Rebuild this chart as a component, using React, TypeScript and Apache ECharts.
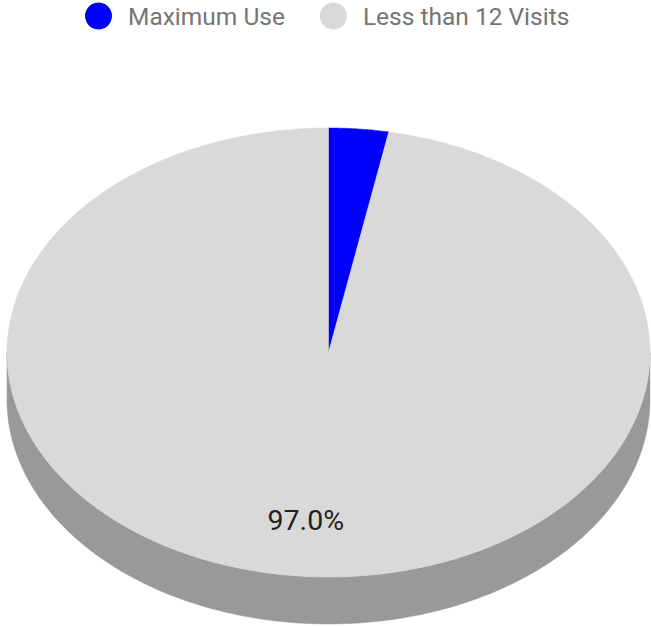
import React, { useEffect, useRef } from "react";
import * as echarts from "echarts";

const categories = ["Maximum Use", "Less than 12 Visits"];
const values = [3.0, 97.0];
const topColors = ["#0000ff", "#d9d9d9"];
const sideColors = ["#00009a", "#999999"];

const CX = 328.5;
const CY = 352.5;
const RX = 321.5;
const RY = 224.5;
const DEPTH = 47;
const LABEL_R = 0.75;

function pt(deg: number, dy = 0): number[] {
  const r = (deg * Math.PI) / 180;
  return [CX + RX * Math.sin(r), CY - RY * Math.cos(r) + dy];
}

function arcPoints(a: number, b: number, dy = 0): number[][] {
  const pts: number[][] = [];
  const n = Math.max(2, Math.ceil((b - a) / 0.5));
  for (let k = 0; k <= n; k++) pts.push(pt(a + ((b - a) * k) / n, dy));
  return pts;
}

export default function App() {
  const ref = useRef<HTMLDivElement>(null);
  useEffect(() => {
    if (!ref.current) return;
    const chart = echarts.init(ref.current, null, { renderer: "svg" });
    const total = values.reduce((s, v) => s + v, 0);
    const series = categories.map((name, i) => ({
      type: "custom",
      name,
      coordinateSystem: "none",
      itemStyle: { color: topColors[i] },
      data: [[values[i], i]],
      renderItem: (params: any, api: any) => {
        const idx = api.value(1) as number;
        const v = api.value(0) as number;
        let before = 0;
        for (let k = 0; k < idx; k++) before += values[k];
        const a = (before / total) * 360;
        const b = ((before + v) / total) * 360;
        const children: any[] = [];
        // side (front half only: 90..270 deg)
        const sa = Math.max(a, 90);
        const sb = Math.min(b, 270);
        if (sb > sa) {
          const topArc = arcPoints(sa, sb, 0);
          const botArc = arcPoints(sa, sb, DEPTH).reverse();
          children.push({
            type: "polygon",
            z2: 1,
            shape: { points: topArc.concat(botArc) },
            style: { fill: sideColors[idx], stroke: sideColors[idx], lineWidth: 0.5 },
          });
        }
        // top face
        children.push({
          type: "polygon",
          z2: 10,
          shape: { points: [[CX, CY]].concat(arcPoints(a, b, 0)) },
          style: { fill: topColors[idx], stroke: topColors[idx], lineWidth: 0.5 },
        });
        const pct = (v / total) * 100;
        if (pct >= 5) {
          const mid = (a + b) / 2;
          const r = (mid * Math.PI) / 180;
          children.push({
            type: "text",
            z2: 20,
            x: CX + LABEL_R * RX * Math.sin(r),
            y: CY - LABEL_R * RY * Math.cos(r),
            style: {
              text: pct.toFixed(1) + "%",
              fill: "#222222",
              fontSize: 28.5,
              fontFamily: "Roboto",
              align: "center",
              verticalAlign: "middle",
            },
          });
        }
        return { type: "group", children };
      },
    }));
    chart.setOption({
      animation: false,
      legend: {
        data: categories,
        left: 85,
        top: 2.5,
        padding: 0,
        icon: "circle",
        itemWidth: 27,
        itemHeight: 27,
        itemGap: 35,
        selectedMode: false,
        textStyle: {
          fontSize: 24.5,
          color: "#757575",
          fontFamily: "Roboto",
          padding: [0, 0, 0, 11],
        },
      },
      series,
    });
    return () => chart.dispose();
  }, []);
  return (
    <div
      ref={ref}
      style={{ position: "fixed", left: 0, top: 0, width: 651, height: 626, background: "#ffffff" }}
    />
  );
}
